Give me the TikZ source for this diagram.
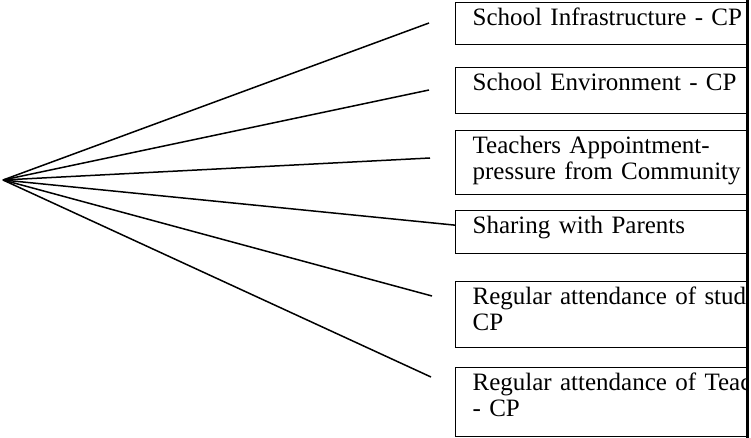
\documentclass[tikz,border=0pt]{standalone}
\usepackage{fontspec}
\setmainfont{Liberation Serif}
\usetikzlibrary{positioning}

\begin{document}
\begin{tikzpicture}[
  x=1pt, y=-1pt,
  box/.style={rectangle, draw, line width=1.3pt, anchor=north west, align=left, inner xsep=17pt, inner ysep=5pt, text width=420pt, text height=18pt, font=\fontsize{25}{26}\selectfont},
  link/.style={line width=1.5pt},
  edge/.style={line width=3pt},
]
\useasboundingbox (0,0) rectangle (751,438);

% Boxes
\begin{scope}
\clip (0,0) rectangle (746,438);
\node[box, text depth=14pt] (infra) at (455,2) {School Infrastructure - CP};
\node[box, text depth=18pt] (environ) at (455,67) {School Environment - CP};
\node[box, text depth=36pt] (appoint) at (455,130) {Teachers Appointment-\\pressure from Community};
\node[box, text depth=15pt] (share) at (455,210) {Sharing with Parents};
\node[box, text depth=38pt] (student) at (455,281) {Regular attendance of students -\\CP};
\node[box, text depth=41pt] (teacher) at (455,367) {Regular attendance of Teachers\\- CP};
\end{scope}
\draw[edge] (747.5,0) -- (747.5,438);

% Lines
\coordinate (apex) at (3,180);
\coordinate (e1) at (429,23);
\coordinate (e2) at (429,90);
\coordinate (e3) at (430,158);
\coordinate (e5) at (432,296);
\coordinate (e6) at (431,377);

\draw[link] (apex) -- (e1);
\draw[link] (apex) -- (e2);
\draw[link] (apex) -- (e3);
\draw[link] (apex) -- ([yshift=7pt]share.west);
\draw[link] (apex) -- (e5);
\draw[link] (apex) -- (e6);
\end{tikzpicture}
\end{document}
